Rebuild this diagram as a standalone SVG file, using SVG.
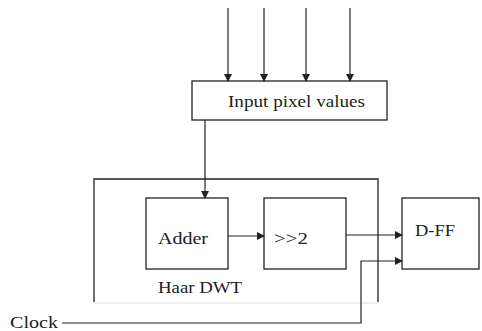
<svg xmlns="http://www.w3.org/2000/svg" width="482" height="331" viewBox="0 0 482 331">
<style>
.box{fill:none;stroke:#222;stroke-width:1.3}
.ln{fill:none;stroke:#222;stroke-width:1.2}
.t{font-family:"Liberation Serif","Times New Roman",serif;font-size:16px;fill:#222}
</style>
<defs>
<marker id="ah" markerWidth="8" markerHeight="8" refX="7" refY="4" orient="auto" markerUnits="userSpaceOnUse">
<path d="M0,0 L8,4 L0,8 Z" fill="#222"/>
</marker>
</defs>
<rect width="482" height="331" fill="#fff"/>
<g id="haar">
<path class="box" d="M94,302 V179 H378 V302"/>
<path d="M94,303 H378" stroke="#ddd" stroke-width="1" fill="none"/>
<text class="t" x="158" y="293" textLength="84" lengthAdjust="spacingAndGlyphs">Haar DWT</text>
</g>
<g id="input">
<rect class="box" x="192" y="81" width="195" height="39"/>
<text class="t" x="228" y="107" textLength="137" lengthAdjust="spacingAndGlyphs">Input pixel values</text>
</g>
<g id="adder">
<rect class="box" x="146" y="198" width="82" height="71"/>
<text class="t" x="158" y="244" textLength="50" lengthAdjust="spacingAndGlyphs">Adder</text>
</g>
<g id="shift">
<rect class="box" x="264" y="198" width="82" height="71"/>
<text class="t" x="274" y="244" textLength="34" lengthAdjust="spacingAndGlyphs">&gt;&gt;2</text>
</g>
<g id="dff">
<rect class="box" x="402" y="198" width="77" height="71"/>
<text class="t" x="415" y="236" textLength="40" lengthAdjust="spacingAndGlyphs">D-FF</text>
</g>
<g id="clock">
<text class="t" x="10" y="328" textLength="48" lengthAdjust="spacingAndGlyphs">Clock</text>
</g>
<g id="connectors">
<line class="ln" x1="228" y1="8" x2="228" y2="81" marker-end="url(#ah)"/>
<line class="ln" x1="264" y1="8" x2="264" y2="81" marker-end="url(#ah)"/>
<line class="ln" x1="306" y1="8" x2="306" y2="81" marker-end="url(#ah)"/>
<line class="ln" x1="350" y1="8" x2="350" y2="81" marker-end="url(#ah)"/>
<line class="ln" x1="205" y1="120" x2="205" y2="198" marker-end="url(#ah)"/>
<line class="ln" x1="228" y1="236" x2="264" y2="236" marker-end="url(#ah)"/>
<line class="ln" x1="346" y1="235" x2="402" y2="235" marker-end="url(#ah)"/>
<path class="ln" d="M62,323 H361 V261 H402" marker-end="url(#ah)"/>
</g>
</svg>
